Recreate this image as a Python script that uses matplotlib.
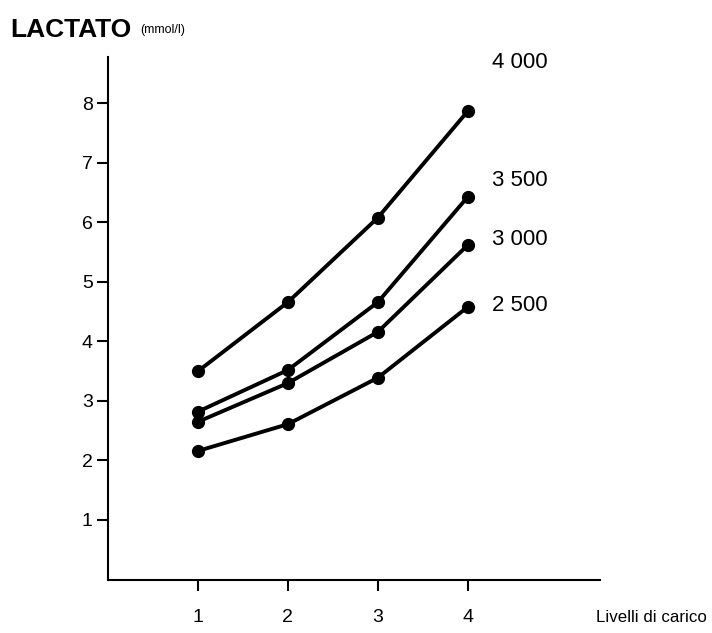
import matplotlib
matplotlib.use("Agg")
from matplotlib import pyplot as plt

plt.rcParams['font.family'] = ['Liberation Sans', 'DejaVu Sans']

# load levels and lactate curves (mmol/l) per running speed
levels = [1, 2, 3, 4]
lact_4000 = [3.50, 4.66, 6.08, 7.87]
lact_3500 = [2.82, 3.52, 4.66, 6.43]
lact_3000 = [2.65, 3.30, 4.16, 5.62]
lact_2500 = [2.16, 2.61, 3.39, 4.58]
curve_names = ['4 000', '3 500', '3 000', '2 500']
label_y = [8.68, 6.71, 5.71, 4.61]
y_ticks = [1, 2, 3, 4, 5, 6, 7, 8]

fig = plt.figure(figsize=(7.12, 6.33), dpi=100)
ax = fig.add_axes([108/712, (633-579.5)/633, 492/712, (579.5-57)/633])

for vals in [lact_4000, lact_3500, lact_3000, lact_2500]:
    ax.plot(levels, vals, color='black', lw=2.8, marker='o', ms=8.5, solid_capstyle='round')

for name, yy in zip(curve_names, label_y):
    ax.text(4.27, yy, name, fontsize=16, va='center', ha='left')

ax.set_xlim(0, 5.47)
ax.set_ylim(0, 8.78)
ax.set_xticks(levels)
ax.set_yticks(y_ticks)
ax.tick_params(axis='both', labelsize=14, width=1.5, length=8, color='black')
ax.tick_params(axis='x', pad=13)
ax.tick_params(axis='y', pad=3)
for s in ['top', 'right']:
    ax.spines[s].set_visible(False)
for s in ['left', 'bottom']:
    ax.spines[s].set_linewidth(1.5)

fig.text(10/712, 1 - 30/633, 'LACTATO', fontsize=19, fontweight='bold', va='center', ha='left')
fig.text(140/712, 1 - 30/633, '(mmol/l)', fontsize=9, va='center', ha='left')
fig.text(596/712, 1 - 617/633, 'Livelli di carico', fontsize=12.2, va='center', ha='left')

fig.savefig('out.png', dpi=100)
